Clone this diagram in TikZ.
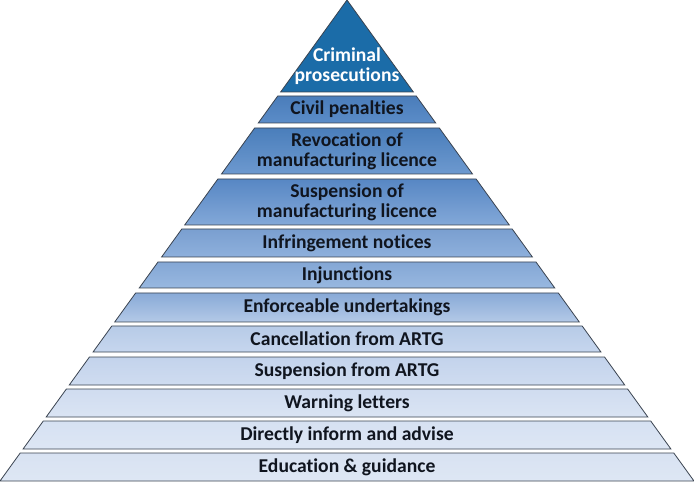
\documentclass[tikz,border=0pt]{standalone}
\usepackage{fontspec}
\setmainfont[Ligatures={NoCommon,TeX}]{Carlito}
\definecolor{crim}{HTML}{1B6CA8}
\definecolor{edge}{HTML}{3A4350}
\definecolor{txt}{HTML}{10151F}
\definecolor{c2a}{HTML}{4A7DBA}\definecolor{c2b}{HTML}{5B8CC8}
\definecolor{c3a}{HTML}{4A7EBB}\definecolor{c3b}{HTML}{6D99CF}
\definecolor{c4a}{HTML}{5787C4}\definecolor{c4b}{HTML}{83A8D8}
\definecolor{c5a}{HTML}{7A9FD0}\definecolor{c5b}{HTML}{8EB0DC}
\definecolor{c6a}{HTML}{84A7D5}\definecolor{c6b}{HTML}{98B8E0}
\definecolor{c7a}{HTML}{88AAD7}\definecolor{c7b}{HTML}{B4C9E7}
\definecolor{c8a}{HTML}{B7CBE7}\definecolor{c8b}{HTML}{C6D6EE}
\definecolor{c9a}{HTML}{C3D3EC}\definecolor{c9b}{HTML}{CFDCF0}
\definecolor{c10a}{HTML}{D0DCF0}\definecolor{c10b}{HTML}{DAE4F3}
\definecolor{c11a}{HTML}{D6E1F2}\definecolor{c11b}{HTML}{DDE6F4}
\definecolor{c12a}{HTML}{D8E2F2}\definecolor{c12b}{HTML}{DEE7F4}
\begin{document}
\begin{tikzpicture}[x=1pt,y=1pt,
  layer/.style={draw=edge,line width=0.8pt},
  lbl/.style={inner sep=0pt,align=center,text=txt,font=\fontsize{19.6}{19.8}\selectfont\bfseries},
  toplbl/.style={lbl,text=white}]
\useasboundingbox (0,0) rectangle (694,488);
% top layer
\fill[crim] (347,488) -- (347+0.7214*92,488-92) -- (347-0.7214*92,488-92) -- cycle;
\draw[layer] (347,488) -- (347+0.7214*92,488-92) -- (347-0.7214*92,488-92) -- cycle;
\node[toplbl] (L1) at (347,488-66) {Criminal\\prosecutions};
\foreach \i/\t/\b/\txt in {
  2/96/123/{Civil penalties},
  3/128/174/{Revocation of\\manufacturing licence},
  4/179/225/{Suspension of\\manufacturing licence},
  5/229/257/{Infringement notices},
  6/262/288/{Injunctions},
  7/293/322/{Enforceable undertakings},
  8/326/352/{Cancellation from ARTG},
  9/357/385/{Suspension from ARTG},
  10/389/417/{Warning letters},
  11/421/449/{Directly inform and advise},
  12/453/481/{Education \& guidance}}{
  \pgfmathsetmacro\lt{347-0.7214*\t}
  \pgfmathsetmacro\rt{347+0.7214*\t}
  \pgfmathsetmacro\lb{347-0.7214*\b}
  \pgfmathsetmacro\rb{347+0.7214*\b}
  \pgfmathsetmacro\yt{488-\t}
  \pgfmathsetmacro\yb{488-\b}
  \pgfmathsetmacro\ym{488-(\t+\b)/2}
  \shade[top color=c\i a,bottom color=c\i b] (\lt,\yt) -- (\rt,\yt) -- (\rb,\yb) -- (\lb,\yb) -- cycle;
  \draw[layer] (\lt,\yt) -- (\rt,\yt) -- (\rb,\yb) -- (\lb,\yb) -- cycle;
  \node[lbl] (L\i) at (347,\ym) {\txt};
}
\end{tikzpicture}
\end{document}
